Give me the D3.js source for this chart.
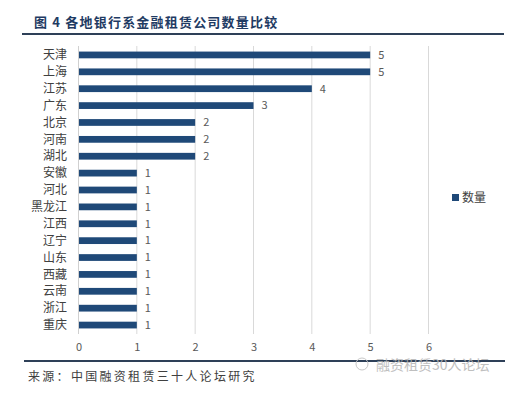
<!DOCTYPE html>
<html>
<head>
<meta charset="utf-8">
<script src="https://cdn.jsdelivr.net/npm/d3@7"></script>
<style>
  body { margin: 0; background: #fff; }
  text { font-family: "Noto Sans CJK SC", "Noto Sans", sans-serif; }
</style>
</head>
<body>
<div id="chart-area"></div>
<script>
// data
var regions = ["天津","上海","江苏","广东","北京","河南","湖北","安徽","河北","黑龙江","江西","辽宁","山东","西藏","云南","浙江","重庆"];
var counts = [5,5,4,3,2,2,2,1,1,1,1,1,1,1,1,1,1];
var xTicks = [0,1,2,3,4,5,6];
var seriesName = "数量";
var title = "图 4  各地银行系金融租赁公司数量比较";
var source = "来源：中国融资租赁三十人论坛研究";

var W = 522, H = 393;
var svg = d3.select("#chart-area").append("svg")
  .attr("width", W).attr("height", H);

// title + rules
svg.append("text")
  .attr("x", 34).attr("y", 27)
  .attr("font-size", "13px")
  .attr("font-weight", "bold")
  .attr("letter-spacing", "1.2px")
  .attr("fill", "#1f3b63")
  .text(title);
svg.append("line")
  .attr("x1", 22).attr("x2", 504).attr("y1", 34).attr("y2", 34)
  .attr("stroke", "#2e4058").attr("stroke-width", 2);

var x = d3.scaleLinear().domain([0, 6]).range([78.5, 428.5]);
var y = d3.scaleBand().domain(regions).range([46.5, 333.5]).paddingInner(0.6).paddingOuter(0.3);

// gridlines
svg.append("g").selectAll("line").data(xTicks.slice(1)).enter().append("line")
  .attr("x1", d => x(d)).attr("x2", d => x(d))
  .attr("y1", 46).attr("y2", 334)
  .attr("stroke", "#d9d9d9").attr("stroke-width", 1);

// y axis line
svg.append("line")
  .attr("x1", x(0)).attr("x2", x(0)).attr("y1", 46).attr("y2", 334)
  .attr("stroke", "#d0d0d0");

// bars
svg.append("g").selectAll("rect").data(regions).enter().append("rect")
  .attr("x", x(0) + 0.5)
  .attr("y", d => y(d))
  .attr("width", (d, i) => x(counts[i]) - x(0) - 0.5)
  .attr("height", y.bandwidth())
  .attr("fill", "#1f4978");

// value labels
svg.append("g").selectAll("text").data(regions).enter().append("text")
  .attr("x", (d, i) => x(counts[i]) + 8)
  .attr("y", d => y(d) + y.bandwidth() / 2)
  .attr("dy", "0.35em")
  .attr("font-size", "11px")
  .attr("fill", "#595959")
  .text((d, i) => counts[i]);

// category labels
svg.append("g").selectAll("text").data(regions).enter().append("text")
  .attr("x", 67)
  .attr("y", d => y(d) + y.bandwidth() / 2)
  .attr("dy", "0.35em")
  .attr("text-anchor", "end")
  .attr("font-size", "12px")
  .attr("fill", "#404040")
  .text(d => d);

// x axis
var xAxisCall = d3.axisBottom(x).tickValues(xTicks).tickFormat(d3.format("d")).tickSize(0).tickPadding(9);
var xg = svg.append("g")
  .attr("transform", "translate(0,334)")
  .call(xAxisCall);
xg.select(".domain").remove();
xg.selectAll("text").attr("font-size", "11px").attr("fill", "#595959")
  .attr("font-family", "'Noto Sans', sans-serif");

// legend
svg.append("rect")
  .attr("x", 452).attr("y", 194).attr("width", 7).attr("height", 7)
  .attr("fill", "#1f4978");
svg.append("text")
  .attr("x", 462).attr("y", 198).attr("dy", "0.35em")
  .attr("font-size", "12px").attr("fill", "#404040")
  .text(seriesName);

// bottom rule + source
svg.append("line")
  .attr("x1", 24).attr("x2", 505).attr("y1", 361).attr("y2", 361)
  .attr("stroke", "#2e4058").attr("stroke-width", 2);
svg.append("text")
  .attr("x", 28).attr("y", 381)
  .attr("font-size", "12px").attr("fill", "#404040")
  .attr("letter-spacing", "2.3px")
  .text(source);

// watermark
svg.append("circle").attr("cx", 362).attr("cy", 364).attr("r", 6)
  .attr("fill", "none").attr("stroke", "#c8c8c8");
svg.append("text")
  .attr("x", 376).attr("y", 370)
  .attr("font-size", "14px").attr("fill", "#b5b5b5").attr("opacity", 0.85)
  .text("融资租赁30人论坛");
</script>
</body>
</html>
